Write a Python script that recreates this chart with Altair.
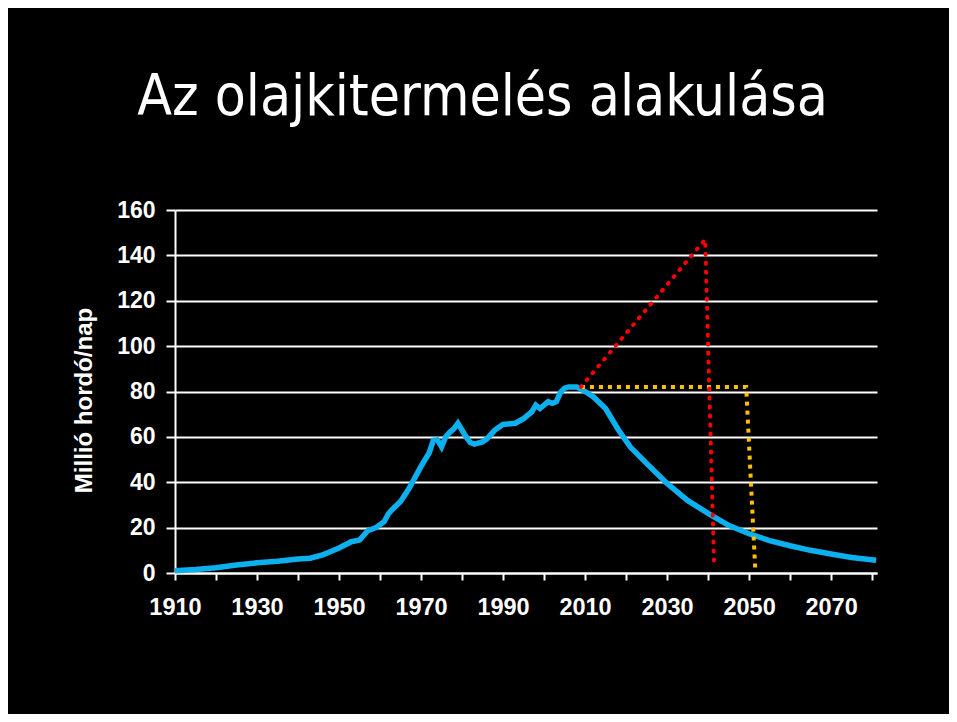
import altair as alt
import pandas as pd

# Historical + forecast production (million barrels/day)
years = [1910, 1915, 1920, 1925, 1930, 1935, 1940, 1943, 1946, 1948, 1950, 1953, 1955,
         1957, 1959, 1961, 1962, 1963, 1965, 1967, 1970, 1972, 1973, 1974, 1975, 1976,
         1977, 1978, 1979, 1980, 1981, 1982, 1983, 1985, 1986, 1987, 1988, 1990, 1993,
         1995, 1997, 1998, 1999, 2001, 2002, 2003, 2004, 2005, 2006, 2008, 2010, 2012,
         2015, 2018, 2021, 2025, 2030, 2035, 2040, 2045, 2050, 2055, 2060, 2065, 2070,
         2075, 2081]
production = [1.0, 1.5, 2.3, 3.5, 4.5, 5.2, 6.2, 6.5, 8.0, 9.5, 11.0, 13.8, 14.5,
              18.6, 20.0, 22.6, 26.0, 28.0, 31.5, 37.0, 47.0, 53.0, 58.5, 58.7, 55.6, 60.0,
              62.0, 63.5, 66.0, 63.0, 60.0, 57.5, 56.8, 57.8, 59.0, 61.0, 63.0, 65.5, 66.0,
              68.0, 71.0, 74.0, 72.5, 75.5, 74.8, 75.5, 79.5, 81.5, 82.0, 82.0, 80.0, 77.7,
              72.5, 63.5, 55.6, 48.3, 39.5, 32.0, 26.3, 21.0, 17.3, 14.3, 12.0, 10.0, 8.4,
              6.8, 5.6]

# Red dotted scenario (growing demand, then collapse)
red_years = [2009, 2039.3, 2041.5]
red_values = [82, 147, 2]

# Orange dotted scenario (flat demand, then collapse)
orange_years = [2009, 2049.3, 2051.5]
orange_values = [82, 82, 2]

x_ticks = list(range(1910, 2081, 10))
y_ticks = list(range(0, 161, 20))

blue_df = pd.DataFrame({"year": years, "value": production})
red_df = pd.DataFrame({"year": red_years, "value": red_values, "i": range(len(red_years))})
orange_df = pd.DataFrame({"year": orange_years, "value": orange_values, "i": range(len(orange_years))})

FONT = "Liberation Sans"

x_scale = alt.Scale(domain=[1910, 2081.2], nice=False, zero=False)
y_scale = alt.Scale(domain=[0, 160], nice=False)

x_enc = alt.X(
    "year:Q", scale=x_scale,
    axis=alt.Axis(
        values=x_ticks, format="d", title=None, grid=False,
        labelExpr="(datum.value - 1910) % 20 == 0 ? datum.label : ''",
        domainColor="white", domainWidth=2, tickColor="white", tickWidth=2, tickSize=7,
        labelColor="white", labelFont=FONT, labelFontSize=23.5, labelFontWeight="bold",
        labelPadding=15, labelFlush=False, labelOverlap=False,
    ),
)
y_enc = alt.Y(
    "value:Q", scale=y_scale,
    axis=alt.Axis(
        values=y_ticks, title="Millió hordó/nap",
        grid=True, gridColor="white", gridWidth=2, gridOpacity=1,
        domainColor="white", domainWidth=2, tickColor="white", tickWidth=2, tickSize=9,
        labelColor="white", labelFont=FONT, labelFontSize=23, labelFontWeight="bold",
        labelPadding=11, labelFlush=False,
        titleColor="white", titleFont=FONT, titleFontSize=24, titleFontWeight="bold",
        titleAngle=270, titleX=-91, titleY=190, titleAlign="center", titleBaseline="middle",
    ),
)

blue = alt.Chart(blue_df).mark_line(color="#0DB0EE", strokeWidth=5.5, clip=False).encode(
    x=x_enc, y=y_enc
)
orange = alt.Chart(orange_df).mark_line(
    color="#FFC000", strokeWidth=4, strokeDash=[4, 5], strokeCap="butt"
).encode(x="year:Q", y="value:Q", order="i:Q")
red = alt.Chart(red_df).mark_line(
    color="#FF0000", strokeWidth=4, strokeDash=[1, 8], strokeCap="round"
).encode(x="year:Q", y="value:Q", order="i:Q")

chart = (
    alt.layer(blue, orange, red)
    .properties(
        width=702, height=363,
        autosize=alt.AutoSizeParams(type="none"),
        padding={"left": 167, "top": 202, "right": 72, "bottom": 141},
        background="black",
        title=alt.TitleParams(
            "Az olajkitermelés alakulása",
            color="white", font="DejaVu Sans Condensed", fontSize=56.5, fontWeight="normal",
            anchor="middle", frame="bounds", baseline="alphabetic", offset=28, dx=3,
        ),
    )
    .configure_view(stroke=None)
)

chart.save("out.html", embed_options={"renderer": "svg", "actions": False})
